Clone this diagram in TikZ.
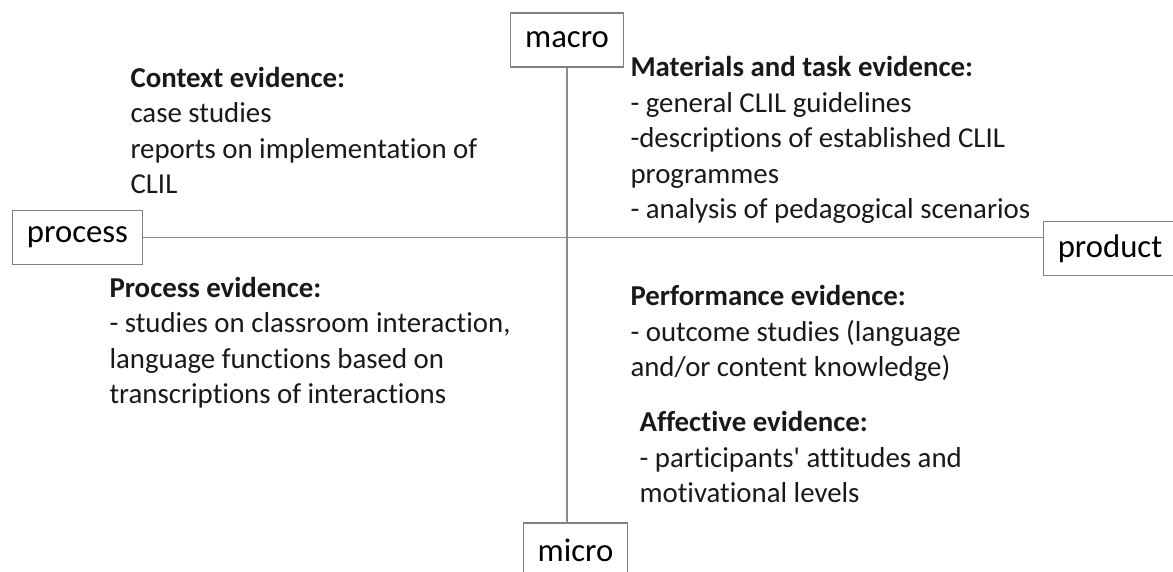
\documentclass[tikz,border=0pt]{standalone}
\usepackage{fontspec}
\setmainfont{Carlito}[Ligatures={NoCommon}]
\usepackage{tikz}

\begin{document}
\begin{tikzpicture}[x=0.385pt, y=-0.385pt,
        axis/.style={rectangle, draw=black!50, line width=0.5pt, inner xsep=5.5pt, minimum height=20.8pt, font=\fontsize{12.6}{14}\selectfont},
        evidence/.style={anchor=base west, align=left, inner sep=0pt, text=black!90, font=\fontsize{11.1}{13.67}\selectfont},
        line/.style={draw, black!45, line width=0.5pt}]

        \useasboundingbox (0,0) rectangle (1173,572);

        % Axes
        \node [axis] (macro) at (567,40) {macro};
        \node [axis] (micro) at (575.5,550) {micro};
        \node [axis] (process) at (77.5,237.5) {process};
        \node [axis] (product) at (1110,248.5) {product};

        % Evidence (placed at the baseline of the last line)
        \node [evidence] (context) at (130,194) {\textbf{Context evidence:}\\case studies\\reports on implementation of\\CLIL};
        \node [evidence] (materials) at (630,219) {\textbf{Materials and task evidence:}\\- general CLIL guidelines\\-descriptions of established CLIL\\programmes\\- analysis of pedagogical scenarios};
        \node [evidence] (processev) at (109,404) {\textbf{Process evidence:}\\- studies on classroom interaction,\\language functions based on\\transcriptions of interactions};
        \node [evidence] (performance) at (630,377) {\textbf{Performance evidence:}\\- outcome studies (language\\and/or content knowledge)};
        \node [evidence] (affective) at (639,503) {\textbf{Affective evidence:}\\- participants\textquotesingle{} attitudes and\\motivational levels};

        % Lines
        \path [line] (process.east) -- (process.east -| product.west);
        \path [line] (macro.south) -- (macro.south |- micro.north);

    \end{tikzpicture}
\end{document}
